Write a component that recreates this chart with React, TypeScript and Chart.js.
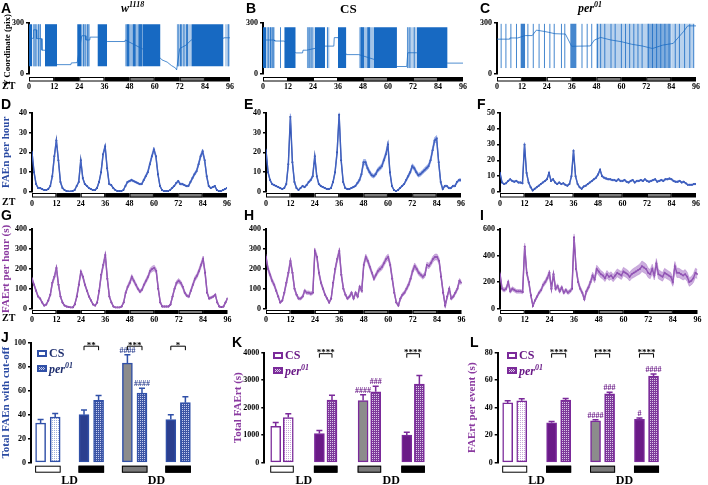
import React, { useEffect, useRef } from 'react';
import { Chart, registerables } from 'chart.js';

Chart.register(...registerables);

const SERIF = "'Liberation Serif', 'Times New Roman', serif";
const SANS = "'Liberation Sans', Arial, sans-serif";

// ================= DATA =================
// ZT hours (x categories) and light schedule
const hoursZT = Array.from({ length: 97 }, (_, i) => i);
const ztTickStep = 12;
const ztPhaseStart = [0, 12, 24, 36, 48, 60, 72, 84];
const ztPhase = ['L', 'D', 'L', 'D', 'S', 'D', 'S', 'D'];

// A-C: raw Y coordinate traces (pix). bouts: [startZT, endZT, density]
const w1118Range = [45, 293];
const w1118Bouts = [[0, 1.6, 1], [1.8, 5.7, 0.3], [7.6, 13.4, 1], [23, 25.2, 1], [25.2, 29, 0.3], [32.7, 37.3, 1], [45.8, 54.3, 0.45], [46.5, 48, 0.9], [49.5, 51, 0.9], [52.2, 54.3, 0.9], [54.3, 62.8, 1], [70.5, 77.5, 0.35], [72, 73, 0.8], [75, 76, 0.8], [77.5, 92.9, 1], [93.5, 96, 0.3]];
const w1118Spikes = [2.4, 3.3, 4.6, 5.4, 26, 26.8, 27.9, 28.6, 71.2, 74, 95.2];
const w1118Rest = [[0, 210], [2, 210], [2.2, 260], [3.5, 260], [3.7, 208], [6, 208], [6.2, 140], [7.6, 140], [13.4, 55], [20, 55], [20.2, 65], [23, 67], [25.2, 225], [27, 225], [27.2, 200], [29, 200], [29.2, 217], [32.7, 217], [37.3, 191], [45.8, 191], [46, 200], [62.8, 93], [63.5, 83], [66, 70], [68, 50], [70, 35], [70.5, 24], [72, 150], [75, 170], [77.5, 200], [92.9, 210], [93, 213], [96, 213]];

const csRange = [35, 275];
const csBouts = [[0, 1.5, 1], [1.5, 5.5, 0.4], [10.2, 15.7, 1], [21, 24.8, 0.35], [24.8, 29.8, 1], [30.5, 32, 0.3], [36, 40, 1], [46, 53, 0.4], [47, 48.5, 0.9], [50, 51.5, 0.9], [53, 64.3, 1], [69, 73.7, 0.3], [73.7, 88.6, 1]];
const csSpikes = [2.5, 3.6, 4.4, 5.2, 8.4, 21.6, 22.5, 23.5, 31, 47, 69.5, 70.5, 72.6];
const csRest = [[0, 200], [5.5, 200], [5.6, 194], [10.2, 194], [15.7, 124], [19, 124], [19.2, 140], [21, 140], [29.8, 164], [34, 164], [34.2, 214], [36, 214], [40, 114], [46, 114], [64.3, 44], [69, 44], [69.5, 125], [73.7, 125], [88.6, 64], [96, 64]];

const per01Range = [35, 295];
const per01Bouts = [[11.3, 13.6, 0.85], [35.3, 38.4, 0.8], [47.7, 72.4, 0.3], [72.4, 84, 0.55], [84, 95, 0.3]];
const per01Spikes = [2, 4.3, 6.7, 9.4, 14.9, 17.5, 20.3, 22.9, 25.5, 27.6, 31.1, 32.7, 41, 43.5, 45.7, 48.5, 50, 52, 55, 57, 60, 62, 64, 66, 68, 70, 73, 75, 77, 79, 81, 83, 86, 88, 90.5, 93, 94.9];
const per01Rest = [[0, 205], [6, 205], [6.2, 212], [10, 212], [13.6, 226], [17, 226], [19, 258], [23, 250], [25, 245], [28, 237], [33, 235], [36, 163], [45, 165], [47, 200], [50, 215], [55, 200], [60, 190], [65, 175], [70, 165], [75, 150], [80, 170], [85, 180], [90, 250], [92, 283], [96, 283]];

// D-F: FAEn per hour (mean, SEM)
const faenW1118 = [20, 10, 4, 2, 2, 1.5, 1, 1, 1.5, 3, 8, 18, 26, 16, 5, 2, 1, 0.5, 0.3, 0.3, 0.5, 1, 3, 5, 16, 7, 4, 3, 2, 1.5, 1, 1, 2, 5, 10, 19, 23, 12, 4, 3.5, 2, 1, 0.5, 0.5, 0.5, 1, 3, 5, 5.5, 6, 5.5, 5, 4.5, 4, 4, 6, 8, 10, 14, 18, 21.5, 18, 9, 3, 1, 0.5, 0.5, 0.5, 1, 2, 3, 4.5, 5.5, 4, 4, 3.5, 3, 3, 5, 7, 9, 10.5, 14, 18, 20.5, 16, 8, 3, 2, 2.5, 3, 1, 0.5, 0.5, 1, 1.5, 2];
const faenW1118Sem = [1, 0.6, 0.4, 0.3, 0.3, 0.3, 0.2, 0.2, 0.3, 0.4, 0.7, 1, 1.2, 0.9, 0.5, 0.3, 0.2, 0.2, 0.2, 0.2, 0.2, 0.3, 0.4, 0.5, 1, 0.6, 0.4, 0.3, 0.3, 0.3, 0.2, 0.2, 0.3, 0.5, 0.8, 1, 1.2, 0.8, 0.4, 0.4, 0.3, 0.2, 0.2, 0.2, 0.2, 0.2, 0.4, 0.5, 0.5, 0.6, 0.5, 0.5, 0.5, 0.4, 0.4, 0.6, 0.7, 0.8, 1, 1.1, 1.2, 1, 0.8, 0.4, 0.2, 0.2, 0.2, 0.2, 0.2, 0.3, 0.4, 0.5, 0.6, 0.5, 0.5, 0.4, 0.4, 0.4, 0.5, 0.7, 0.8, 0.9, 1, 1.1, 1.2, 1, 0.7, 0.4, 0.3, 0.3, 0.4, 0.2, 0.2, 0.2, 0.2, 0.3, 0.3];
const faenCS = [21, 10, 6, 4, 3.5, 3, 2.5, 2, 1.5, 2, 4, 14, 38, 15, 5, 2, 1, 2, 3, 2.5, 3.5, 5, 6, 8, 18, 8, 4, 3, 2.5, 2, 1.5, 1.5, 2, 5, 10, 20, 39, 16, 5, 2, 1.5, 1.5, 2, 2.5, 3, 4.5, 6, 9, 15, 15, 12, 10, 8.5, 8, 9, 11, 12, 13, 16, 19, 24, 10, 3, 1, 0.5, 1, 2, 3, 4, 6, 8, 10, 13, 12, 10, 8.5, 9, 10, 11, 12, 13, 16, 21, 26, 27, 15, 5, 1.5, 3, 3, 2, 2, 3, 3, 5, 6, 6];
const faenCSSem = [1, 0.7, 0.5, 0.4, 0.4, 0.3, 0.3, 0.3, 0.3, 0.3, 0.5, 1, 1.5, 1, 0.5, 0.3, 0.2, 0.3, 0.4, 0.4, 0.5, 0.6, 0.7, 0.8, 1.2, 0.8, 0.5, 0.4, 0.3, 0.3, 0.3, 0.3, 0.3, 0.5, 0.9, 1.2, 1.5, 1, 0.5, 0.3, 0.3, 0.3, 0.3, 0.4, 0.5, 0.7, 0.9, 1.1, 1.4, 1.4, 1.2, 1.1, 1, 1, 1, 1.1, 1.2, 1.2, 1.3, 1.4, 1.5, 1, 0.5, 0.2, 0.2, 0.2, 0.3, 0.4, 0.5, 0.7, 0.9, 1, 1.2, 1.2, 1.1, 1, 1, 1.1, 1.1, 1.2, 1.2, 1.3, 1.4, 1.5, 1.5, 1.2, 0.8, 0.4, 0.5, 0.5, 0.4, 0.4, 0.5, 0.5, 0.6, 0.7, 0.7];
const faenPer = [12, 6, 5, 5.5, 7, 8, 7, 6.5, 7, 6, 6, 5.5, 30, 12, 6, 3, 1, 2, 3, 4, 5, 6, 7, 8, 12, 7, 8, 6, 5, 6, 5, 5.5, 4.5, 4, 5, 10, 26, 10, 5, 3, 2, 3.5, 4, 5, 6, 7, 8, 9, 11, 14, 10, 9, 8.5, 8, 8, 7.5, 7.5, 7, 8, 7, 7, 7.5, 6.5, 6, 7, 7.5, 6, 7, 7, 7.5, 7, 8, 7, 6.5, 7, 7.5, 8, 6.5, 7, 7.5, 7, 8, 8, 8.5, 8, 7, 6.5, 6.5, 7, 6, 6.5, 5.5, 4.5, 4.5, 4.5, 5, 5];
const faenPerSem = [0.8, 0.5, 0.4, 0.4, 0.5, 0.5, 0.5, 0.5, 0.5, 0.4, 0.4, 0.4, 1.2, 0.8, 0.5, 0.3, 0.2, 0.2, 0.3, 0.3, 0.4, 0.4, 0.5, 0.5, 0.8, 0.5, 0.5, 0.4, 0.4, 0.4, 0.4, 0.4, 0.4, 0.3, 0.4, 0.6, 1.1, 0.6, 0.4, 0.3, 0.2, 0.3, 0.3, 0.4, 0.4, 0.5, 0.5, 0.6, 0.7, 0.8, 0.6, 0.6, 0.6, 0.5, 0.5, 0.5, 0.5, 0.5, 0.5, 0.5, 0.5, 0.5, 0.5, 0.5, 0.5, 0.5, 0.5, 0.5, 0.5, 0.5, 0.5, 0.5, 0.5, 0.5, 0.5, 0.5, 0.5, 0.5, 0.5, 0.5, 0.5, 0.5, 0.5, 0.5, 0.5, 0.5, 0.5, 0.5, 0.5, 0.5, 0.5, 0.4, 0.4, 0.4, 0.4, 0.4, 0.4];

// G-I: FAErt per hour (s) (mean, SEM)
const faertW1118 = [150, 120, 90, 60, 50, 30, 15, 20, 40, 70, 130, 160, 205, 120, 60, 30, 15, 10, 8, 5, 5, 20, 60, 120, 185, 160, 120, 90, 60, 40, 20, 15, 30, 90, 170, 220, 270, 150, 60, 30, 10, 5, 5, 5, 10, 30, 80, 110, 130, 160, 140, 120, 100, 85, 95, 120, 140, 160, 190, 200, 205, 190, 100, 30, 10, 10, 10, 10, 20, 60, 100, 130, 140, 130, 110, 80, 65, 60, 90, 120, 150, 165, 190, 220, 250, 180, 80, 50, 55, 60, 70, 30, 10, 8, 10, 30, 50];
const faertW1118Sem = [10, 8, 8, 6, 6, 5, 4, 4, 5, 7, 10, 12, 14, 10, 6, 4, 3, 3, 3, 2, 2, 3, 6, 10, 12, 10, 9, 7, 6, 5, 3, 3, 4, 8, 12, 14, 15, 10, 6, 4, 2, 2, 2, 2, 3, 4, 8, 10, 12, 12, 11, 10, 9, 8, 9, 10, 11, 12, 13, 14, 14, 12, 8, 4, 3, 3, 3, 3, 3, 6, 8, 10, 12, 11, 10, 8, 7, 7, 9, 10, 12, 12, 13, 14, 15, 12, 8, 6, 6, 6, 6, 4, 2, 2, 2, 4, 6];
const faertCS = [260, 200, 170, 140, 120, 90, 60, 30, 40, 80, 130, 180, 240, 180, 100, 70, 50, 50, 60, 90, 80, 80, 75, 80, 290, 260, 180, 130, 100, 70, 50, 30, 50, 130, 200, 250, 290, 170, 100, 70, 50, 60, 80, 50, 80, 60, 110, 90, 220, 260, 240, 210, 180, 150, 170, 190, 200, 210, 230, 250, 260, 220, 150, 80, 30, 15, 50, 70, 80, 100, 120, 150, 190, 215, 200, 180, 170, 160, 170, 220, 215, 230, 250, 260, 260, 240, 160, 80, 15, 60, 100, 50, 60, 80, 100, 140, 130];
const faertCSSem = [15, 14, 13, 12, 11, 9, 7, 5, 6, 8, 12, 14, 15, 13, 10, 8, 7, 7, 8, 9, 9, 9, 9, 9, 15, 15, 13, 11, 9, 7, 6, 5, 6, 10, 13, 15, 15, 12, 9, 8, 7, 8, 9, 7, 9, 8, 10, 9, 14, 15, 14, 13, 12, 11, 12, 13, 13, 14, 14, 15, 15, 14, 12, 9, 6, 7, 8, 9, 10, 11, 12, 13, 14, 15, 14, 13, 12, 12, 13, 14, 14, 14, 15, 15, 15, 15, 12, 8, 8, 9, 10, 8, 8, 9, 10, 12, 12];
const faertPer = [260, 150, 140, 150, 200, 130, 150, 140, 130, 130, 130, 125, 470, 270, 200, 100, 20, 60, 90, 120, 140, 180, 200, 230, 270, 150, 260, 150, 170, 130, 160, 120, 140, 120, 130, 150, 540, 300, 200, 150, 120, 70, 130, 160, 200, 250, 220, 300, 280, 260, 250, 230, 260, 240, 250, 230, 250, 270, 260, 250, 280, 270, 260, 240, 260, 270, 280, 290, 300, 320, 310, 300, 270, 260, 300, 250, 340, 260, 250, 240, 270, 260, 250, 240, 200, 320, 270, 270, 260, 250, 260, 240, 200, 210, 230, 270, 260];
const faertPerSem = [20, 15, 15, 15, 18, 15, 15, 15, 14, 14, 14, 14, 25, 20, 18, 12, 6, 10, 12, 14, 15, 18, 18, 20, 22, 18, 22, 18, 18, 15, 16, 14, 15, 14, 15, 16, 25, 22, 18, 16, 15, 12, 16, 18, 20, 25, 25, 28, 28, 27, 27, 26, 28, 27, 28, 27, 28, 30, 30, 30, 32, 32, 32, 32, 33, 35, 35, 36, 38, 40, 40, 38, 36, 35, 36, 34, 38, 35, 34, 33, 34, 34, 33, 33, 32, 36, 35, 35, 34, 34, 35, 34, 32, 32, 33, 35, 35];

// J-L: group summaries (LD light, LD dark, DD subj. day, DD subj. night)
const barPhase = ['L', 'D', 'S', 'D'];
const conditionLabels = ['LD', 'DD'];
const faenTotalCS = [33, 40, 83, 36];
const faenTotalCSErr = [3, 4, 7, 4];
const faenTotalPer = [38, 52, 58, 50];
const faenTotalPerErr = [3, 4, 4, 5];
const faenStars = ['', '**', '***', '*'];
const faenHashCS = ['', '', '####', ''];
const faenHashPer = ['', '', '####', ''];

const faertTotalCS = [1320, 1060, 2260, 1000];
const faertTotalCSErr = [140, 110, 210, 110];
const faertTotalPer = [1640, 2280, 2580, 2860];
const faertTotalPerErr = [140, 170, 200, 310];
const faertStars = ['', '****', '', '****'];
const faertHashCS = ['', '', '####', ''];
const faertHashPer = ['', '', '###', ''];

const faertEventCS = [43.5, 29, 30.5, 31.5];
const faertEventCSErr = [1.5, 1, 0.8, 1];
const faertEventPer = [45, 45.5, 50, 63];
const faertEventPerErr = [1.5, 1.2, 1.2, 1.5];
const eventStars = ['', '****', '****', '****'];
const eventHashCS = ['', '', '####', '#'];
const eventHashPer = ['', '', '###', '####'];

// ================= STYLE =================
const phaseFill = { L: '#ffffff', D: '#000000', S: '#7a7a7a' };
const BLUE_TRACE = '23,105,194';
const BLUE = '#1b3d9e';
const BLUE_BAND = 'rgba(90,120,215,0.55)';
const PURPLE = '#6b1f96';
const PURPLE_BAND = 'rgba(170,120,200,0.6)';
const J_BORDER = '#3050a8';
const J_SOLID = '#2b3f8f';
const K_BORDER = '#7b2a9a';
const K_SOLID = '#6a1a87';
const GRAY_BAR = '#8c8c8c';

const tickFont = { family: SERIF, size: 8, weight: 'bold' as const };

// ================= PLUGINS =================
const ztStripPlugin = {
  id: 'ztStrip',
  afterDraw(chart: any, _a: any, opts: any) {
    if (!opts || !opts.show) return;
    const { ctx, chartArea, scales } = chart;
    const x = scales.x;
    const y0 = chartArea.bottom + opts.gap;
    const h = opts.height;
    ctx.save();
    ztPhaseStart.forEach((s, i) => {
      const x0 = x.getPixelForValue(s);
      const x1 = x.getPixelForValue(s + 12);
      ctx.fillStyle = phaseFill[ztPhase[i]];
      ctx.fillRect(x0, y0, x1 - x0, h);
      if (ztPhase[i] !== 'D') {
        ctx.strokeStyle = '#000';
        ctx.lineWidth = 1;
        ctx.strokeRect(x0 + 0.5, y0 + 0.5, x1 - x0 - 1, h - 1);
      }
    });
    ctx.restore();
  },
};

const barAnnotPlugin = {
  id: 'barAnnot',
  afterDraw(chart: any, _a: any, o: any) {
    if (!o || !o.show) return;
    const { ctx, chartArea, scales } = chart;
    const y = scales.y;
    const metaCS = chart.getDatasetMeta(0);
    const metaPer = chart.getDatasetMeta(1);
    ctx.save();
    // error bars + hash marks
    [0, 1].forEach((di) => {
      const ds = chart.data.datasets[di];
      const meta = chart.getDatasetMeta(di);
      const hashes = di === 0 ? o.hashCS : o.hashPer;
      meta.data.forEach((el: any, i: number) => {
        const v = ds.data[i].y;
        const e = ds.errors[i];
        const yt = y.getPixelForValue(v + e);
        ctx.strokeStyle = ds.borderColor;
        ctx.lineWidth = 1.5;
        ctx.beginPath();
        ctx.moveTo(el.x, el.y);
        ctx.lineTo(el.x, yt);
        ctx.moveTo(el.x - 3, yt);
        ctx.lineTo(el.x + 3, yt);
        ctx.stroke();
        if (hashes[i]) {
          ctx.fillStyle = o.color;
          ctx.font = `bold 8px ${SERIF}`;
          ctx.textAlign = 'center';
          ctx.textBaseline = 'alphabetic';
          ctx.fillText(hashes[i], el.x, yt - 2);
        }
      });
    });
    // significance brackets
    const yb = chartArea.top + o.bracketDy;
    o.stars.forEach((s: string, i: number) => {
      if (!s) return;
      const x0 = metaCS.data[i].x;
      const x1 = metaPer.data[i].x;
      ctx.strokeStyle = '#000';
      ctx.lineWidth = 1;
      ctx.beginPath();
      ctx.moveTo(x0, yb + 4);
      ctx.lineTo(x0, yb);
      ctx.lineTo(x1, yb);
      ctx.lineTo(x1, yb + 4);
      ctx.stroke();
      ctx.fillStyle = '#000';
      ctx.font = `bold 9px ${SERIF}`;
      ctx.textAlign = 'center';
      ctx.textBaseline = 'alphabetic';
      ctx.fillText(s, (x0 + x1) / 2, yb + 1.5);
    });
    // condition rectangles
    const ry = chartArea.bottom + 3;
    barPhase.forEach((p, i) => {
      const x0 = metaCS.data[i].x - 5.5;
      const x1 = metaPer.data[i].x + 5.5;
      ctx.fillStyle = phaseFill[p];
      ctx.fillRect(x0, ry, x1 - x0, 7);
      ctx.strokeStyle = '#000';
      ctx.lineWidth = 1;
      ctx.strokeRect(x0 + 0.5, ry + 0.5, x1 - x0 - 1, 6);
    });
    // LD / DD labels
    ctx.fillStyle = '#000';
    ctx.font = `bold 12px ${SERIF}`;
    ctx.textAlign = 'center';
    ctx.textBaseline = 'middle';
    conditionLabels.forEach((lab, k) => {
      const a = (metaCS.data[2 * k].x + metaPer.data[2 * k].x) / 2;
      const b = (metaCS.data[2 * k + 1].x + metaPer.data[2 * k + 1].x) / 2;
      ctx.fillText(lab, (a + b) / 2, chartArea.bottom + 18);
    });
    ctx.restore();
  },
};

// ================= CONFIG BUILDERS =================
function yAxis(p: any) {
  return {
    min: 0,
    max: p.yMax,
    ticks: { stepSize: p.yStep, autoSkip: false, color: '#000', padding: 2, font: tickFont, callback: (v: any) => String(v) },
    grid: { display: true, drawOnChartArea: false, drawTicks: true, tickLength: 3, color: '#000', lineWidth: 1.5 },
    border: { display: true, color: '#000', width: 2 },
    title: p.yTitle
      ? { display: true, text: p.yTitle, color: p.titleColor, font: { family: SERIF, size: 11, weight: 'bold' }, padding: { top: 0, bottom: 0 } }
      : { display: false },
    afterFit: (s: any) => { s.width = p.yW; },
  };
}

function xTimeAxis(p: any) {
  return {
    type: 'linear',
    min: 0,
    max: 96,
    offset: false,
    grid: { display: false, drawTicks: false },
    border: { display: false },
    ticks: { stepSize: ztTickStep, autoSkip: false, maxRotation: 0, padding: p.tickPad, color: '#000', font: tickFont },
    afterFit: (s: any) => { s.height = p.xH; },
  };
}

function baseOptions(p: any) {
  return {
    animation: false,
    responsive: false,
    maintainAspectRatio: false,
    layout: { padding: { top: p.padTop, right: p.padRight, left: 0, bottom: p.padBottom || 0 } },
    plugins: {
      legend: { display: false },
      tooltip: { enabled: false },
      ztStrip: p.strip ? { show: true, gap: p.stripGap, height: p.stripH } : { show: false },
    },
  };
}

function traceConfig(p: any) {
  const [lo, hi] = p.range;
  const boutSets = p.bouts.map(([s, e, d]: number[]) => ({
    data: [{ x: s, y: hi }, { x: e, y: hi }],
    borderWidth: 0,
    pointRadius: 0,
    backgroundColor: `rgba(${BLUE_TRACE},${d})`,
    fill: { value: lo },
  }));
  const spikeData = p.spikes.flatMap((t: number) => [{ x: t, y: lo }, { x: t, y: hi }, { x: t, y: null }]);
  return {
    type: 'line',
    data: {
      datasets: [
        ...boutSets,
        { data: p.rest.map(([x, y]: number[]) => ({ x, y })), borderColor: `rgba(${BLUE_TRACE},0.75)`, borderWidth: 1, pointRadius: 0, fill: false },
        { data: spikeData, borderColor: `rgba(${BLUE_TRACE},0.8)`, borderWidth: 1, pointRadius: 0, fill: false, spanGaps: false },
      ],
    },
    options: {
      ...baseOptions({ ...p, strip: true }),
      scales: { x: xTimeAxis(p), y: yAxis({ ...p, yMax: 300, yStep: 300 }) },
    },
    plugins: [ztStripPlugin],
  };
}

function seriesConfig(p: any) {
  const pts = (arr: number[]) => arr.map((v, i) => ({ x: hoursZT[i], y: v }));
  const upper = p.values.map((v: number, i: number) => v + p.sem[i]);
  const lower = p.values.map((v: number, i: number) => Math.max(0, v - p.sem[i]));
  return {
    type: 'line',
    data: {
      datasets: [
        { data: pts(upper), borderColor: p.band, borderWidth: 0.7, pointRadius: 0, fill: false },
        { data: pts(lower), borderColor: p.band, borderWidth: 0.7, pointRadius: 0, fill: '-1', backgroundColor: p.band },
        { data: pts(p.values), borderColor: p.color, borderWidth: 1.4, pointRadius: 1, pointBackgroundColor: p.color, pointBorderWidth: 0, fill: false },
      ],
    },
    options: {
      ...baseOptions({ ...p, strip: true }),
      scales: { x: xTimeAxis(p), y: yAxis(p) },
    },
    plugins: [ztStripPlugin],
  };
}

function makePattern(bg: string, fg: string) {
  const c = document.createElement('canvas');
  c.width = 2;
  c.height = 2;
  const g = c.getContext('2d') as CanvasRenderingContext2D;
  g.fillStyle = bg;
  g.fillRect(0, 0, 2, 2);
  g.fillStyle = fg;
  g.fillRect(0, 0, 1, 1);
  return g.createPattern(c, 'repeat');
}

function barConfig(p: any) {
  const light = makePattern('#ffffff', p.dot);
  const dark = makePattern(p.patBase, p.patDot);
  return {
    type: 'bar',
    data: {
      datasets: [
        {
          data: p.cs.map((v: number, i: number) => ({ x: i + 1 - p.half, y: v })),
          errors: p.csErr,
          backgroundColor: barPhase.map((ph) => (ph === 'L' ? '#ffffff' : ph === 'S' ? GRAY_BAR : p.solid)),
          borderColor: p.border,
          borderWidth: 1.5,
          borderSkipped: false,
          barThickness: 10,
          grouped: false,
        },
        {
          data: p.per.map((v: number, i: number) => ({ x: i + 1 + p.half, y: v })),
          errors: p.perErr,
          backgroundColor: barPhase.map((ph) => (ph === 'L' ? light : dark)),
          borderColor: p.border,
          borderWidth: 1.5,
          borderSkipped: false,
          barThickness: 10,
          grouped: false,
        },
      ],
    },
    options: {
      ...baseOptions({ ...p, strip: false }),
      plugins: {
        legend: { display: false },
        tooltip: { enabled: false },
        barAnnot: { show: true, stars: p.stars, hashCS: p.hashCS, hashPer: p.hashPer, color: p.hashColor, bracketDy: p.bracketDy },
      },
      scales: {
        x: { type: 'linear', min: p.xMin, max: p.xMax, offset: false, display: false },
        y: yAxis(p),
      },
    },
    plugins: [barAnnotPlugin],
  };
}

// ================= COMPONENTS =================
function ChartBox({ left, top, width, height, make }: any) {
  const ref = useRef<HTMLCanvasElement | null>(null);
  useEffect(() => {
    const chart = new Chart(ref.current as HTMLCanvasElement, make());
    return () => chart.destroy();
  }, []);
  return <canvas ref={ref} width={width} height={height} style={{ position: 'absolute', left, top, width, height }} />;
}

function T({ x, y, size = 12, bold = true, italic = false, color = '#000', family = SERIF, rotate = false, children }: any) {
  return (
    <div style={{ position: 'absolute', left: x, top: y, fontSize: size, fontWeight: bold ? 'bold' : 'normal', fontStyle: italic ? 'italic' : 'normal', color, fontFamily: family, lineHeight: 1, whiteSpace: 'nowrap', transform: rotate ? 'translate(-50%, -50%) rotate(-90deg)' : undefined }}>
      {children}
    </div>
  );
}

function Swatch({ x, y, border, bg }: any) {
  return <div style={{ position: 'absolute', left: x, top: y, width: 10, height: 7, boxSizing: 'border-box', border: `2px solid ${border}`, background: bg }} />;
}

function Legend({ x, y, border, pat, color }: any) {
  return (
    <>
      <Swatch x={x} y={y} border={border} bg="#fff" />
      <T x={x + 12} y={y - 3} size={12} color={color}>CS</T>
      <Swatch x={x} y={y + 15} border={border} bg={pat} />
      <T x={x + 12} y={y + 12} size={12} italic color={color}>per<sup style={{ fontSize: 8 }}>01</sup></T>
    </>
  );
}

export default function App() {
  const row1 = { padTop: 9, xH: 20, tickPad: 8, stripGap: 3, stripH: 4.5 };
  const row2 = { padTop: 12.7, xH: 18, tickPad: 7, stripGap: 1, stripH: 4.5 };
  const row3 = { padTop: 11.3, xH: 17.5, tickPad: 6.5, stripGap: 1.5, stripH: 4 };
  const row4 = { padBottom: 22.3, padRight: 5 };
  const blueLeg = 'repeating-conic-gradient(#3d55a5 0 25%, #c3cdee 0 50%) 0 0 / 2px 2px';
  const purpleLeg = 'repeating-conic-gradient(#7d3a9a 0 25%, #dcc6e8 0 50%) 0 0 / 2px 2px';
  return (
    <div style={{ position: 'fixed', left: 0, top: 0, width: 708, height: 485, background: '#fff', overflow: 'hidden' }}>
      {/* Row 1: traces */}
      <ChartBox left={0} top={14} width={242} height={80} make={() => traceConfig({ ...row1, yW: 29, padRight: 5, range: w1118Range, bouts: w1118Bouts, spikes: w1118Spikes, rest: w1118Rest })} />
      <ChartBox left={232} top={14} width={243} height={80} make={() => traceConfig({ ...row1, yW: 31, padRight: 5, range: csRange, bouts: csBouts, spikes: csSpikes, rest: csRest })} />
      <ChartBox left={466} top={14} width={242} height={80} make={() => traceConfig({ ...row1, yW: 31, padRight: 4, range: per01Range, bouts: per01Bouts, spikes: per01Spikes, rest: per01Rest })} />

      {/* Row 2: FAEn */}
      <ChartBox left={0} top={100} width={238} height={110} make={() => seriesConfig({ ...row2, yW: 32, padRight: 5, values: faenW1118, sem: faenW1118Sem, color: BLUE, band: BLUE_BAND, yMax: 40, yStep: 10, yTitle: 'FAEn per hour', titleColor: '#2b4ba3' })} />
      <ChartBox left={232} top={100} width={240} height={110} make={() => seriesConfig({ ...row2, yW: 34, padRight: 5, values: faenCS, sem: faenCSSem, color: BLUE, band: BLUE_BAND, yMax: 40, yStep: 10 })} />
      <ChartBox left={466} top={100} width={241} height={110} make={() => seriesConfig({ ...row2, yW: 34, padRight: 5, values: faenPer, sem: faenPerSem, color: BLUE, band: BLUE_BAND, yMax: 50, yStep: 10 })} />

      {/* Row 3: FAErt */}
      <ChartBox left={0} top={218} width={238} height={108} make={() => seriesConfig({ ...row3, yW: 32, padRight: 5, values: faertW1118, sem: faertW1118Sem, color: PURPLE, band: PURPLE_BAND, yMax: 400, yStep: 100, yTitle: 'FAErt per hour (s)', titleColor: '#8a3aa0' })} />
      <ChartBox left={232} top={218} width={240} height={108} make={() => seriesConfig({ ...row3, yW: 34, padRight: 5, values: faertCS, sem: faertCSSem, color: PURPLE, band: PURPLE_BAND, yMax: 400, yStep: 100 })} />
      <ChartBox left={466} top={218} width={242} height={108} make={() => seriesConfig({ ...row3, yW: 34, padRight: 5, values: faertPer, sem: faertPerSem, color: PURPLE, band: PURPLE_BAND, yMax: 600, yStep: 200 })} />

      {/* Row 4: bars */}
      <ChartBox left={0} top={330} width={210} height={155} make={() => barConfig({ ...row4, padTop: 12.7, yW: 31, xMin: 0.6106, xMax: 4.62, half: 0.168, bracketDy: 3.5, cs: faenTotalCS, csErr: faenTotalCSErr, per: faenTotalPer, perErr: faenTotalPerErr, stars: faenStars, hashCS: faenHashCS, hashPer: faenHashPer, hashColor: '#2b3f8f', border: J_BORDER, solid: J_SOLID, dot: '#9fb0dc', patBase: '#3d55a5', patDot: '#c3cdee', yMax: 100, yStep: 20, yTitle: 'Total FAEn with cut-off', titleColor: '#2b4ba3' })} />
      <ChartBox left={232} top={330} width={213} height={155} make={() => barConfig({ ...row4, padTop: 22.7, yW: 32.3, xMin: 0.595, xMax: 4.616, half: 0.144, bracketDy: 1, cs: faertTotalCS, csErr: faertTotalCSErr, per: faertTotalPer, perErr: faertTotalPerErr, stars: faertStars, hashCS: faertHashCS, hashPer: faertHashPer, hashColor: K_SOLID, border: K_BORDER, solid: K_SOLID, dot: '#c9a8d8', patBase: '#7d3a9a', patDot: '#dcc6e8', yMax: 4000, yStep: 1000, yTitle: 'Total FAErt (s)', titleColor: '#8a3aa0' })} />
      <ChartBox left={466} top={330} width={229} height={155} make={() => barConfig({ ...row4, padTop: 22.7, yW: 31.7, xMin: 0.613, xMax: 4.99, half: 0.16, bracketDy: 1, cs: faertEventCS, csErr: faertEventCSErr, per: faertEventPer, perErr: faertEventPerErr, stars: eventStars, hashCS: eventHashCS, hashPer: eventHashPer, hashColor: K_SOLID, border: K_BORDER, solid: K_SOLID, dot: '#c9a8d8', patBase: '#7d3a9a', patDot: '#dcc6e8', yMax: 80, yStep: 20, yTitle: 'FAErt per event (s)', titleColor: '#8a3aa0' })} />

      {/* Y title of panel A (rotated text) */}
      <T x={7} y={50} size={9} rotate>Y Coordinate (pix)</T>

      {/* Panel letters */}
      <T x={1} y={1} size={14} family={SANS}>A</T>
      <T x={246} y={1} size={14} family={SANS}>B</T>
      <T x={480} y={1} size={14} family={SANS}>C</T>
      <T x={1} y={97} size={14} family={SANS}>D</T>
      <T x={244} y={97} size={14} family={SANS}>E</T>
      <T x={477} y={97} size={14} family={SANS}>F</T>
      <T x={1} y={208} size={14} family={SANS}>G</T>
      <T x={244} y={208} size={14} family={SANS}>H</T>
      <T x={480} y={208} size={14} family={SANS}>I</T>
      <T x={1} y={330} size={14} family={SANS}>J</T>
      <T x={232} y={335} size={14} family={SANS}>K</T>
      <T x={470} y={335} size={14} family={SANS}>L</T>

      {/* Titles */}
      <T x={121} y={1} size={12} italic>w<sup style={{ fontSize: 8 }}>1118</sup></T>
      <T x={340} y={2} size={13}>CS</T>
      <T x={578} y={1} size={12} italic>per<sup style={{ fontSize: 8 }}>01</sup></T>

      {/* ZT labels */}
      <T x={2} y={81} size={10}>ZT</T>
      <T x={2} y={197} size={10}>ZT</T>
      <T x={2} y={313} size={10}>ZT</T>

      {/* Legends */}
      <Legend x={37} y={350} border={J_BORDER} pat={blueLeg} color="#1f2f6f" />
      <Legend x={273} y={352} border={K_BORDER} pat={purpleLeg} color="#6a1a87" />
      <Legend x={507} y={352} border={K_BORDER} pat={purpleLeg} color="#6a1a87" />
    </div>
  );
}
